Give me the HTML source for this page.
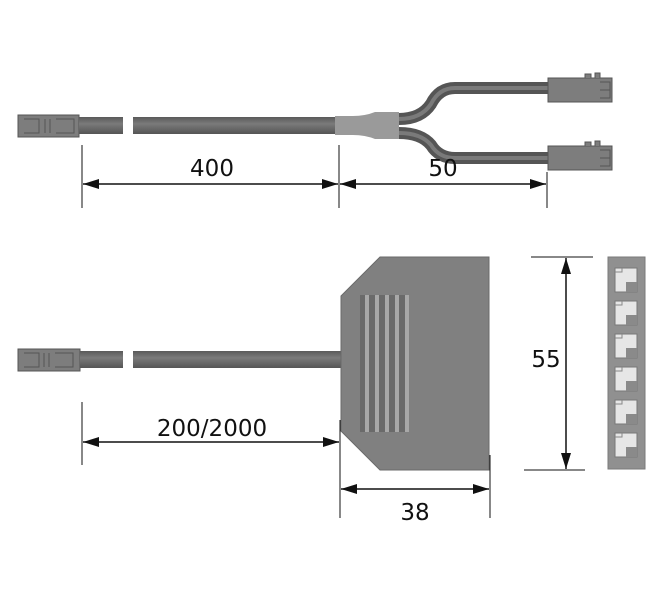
<!DOCTYPE html>
<html><head><style>
html,body{margin:0;padding:0;background:#fff;}
svg{display:block;}
text{font-family:"DejaVu Sans","Liberation Sans",sans-serif;font-size:23px;fill:#111;}
</style></head><body>
<svg width="670" height="598" viewBox="0 0 670 598" xmlns="http://www.w3.org/2000/svg">
<defs>
<marker id="a" viewBox="0 0 16 10" refX="16" refY="5" markerWidth="16" markerHeight="10" orient="auto-start-reverse" markerUnits="userSpaceOnUse"><path d="M0,0L16,5L0,10z" fill="#111"/></marker>
<linearGradient id="cab" x1="0" y1="0" x2="0" y2="1"><stop offset="0" stop-color="#5a5a5a"/><stop offset=".4" stop-color="#7a7a7a"/><stop offset="1" stop-color="#555"/></linearGradient>
</defs>
<!-- TOP -->
<rect x="18" y="115" width="61" height="22" fill="#7d7d7d" stroke="#555"/>
<path d="M24,119h15v14h-15M45,119v14M50,119v14M56,119h18v14h-18" fill="none" stroke="#555"/>
<rect x="79" y="117" width="44" height="17" fill="url(#cab)"/>
<rect x="133" y="117" width="202" height="17" fill="url(#cab)"/>
<path d="M335,116h18q12,0 22,-4h24v27h-24q-10,-4 -22,-4h-18z" fill="#9a9a9a"/>
<path d="M399,119q22,0 32,-15q8,-16 24,-16h93" fill="none" stroke="#555" stroke-width="12"/>
<path d="M399,119q22,0 32,-15q8,-16 24,-16h93" fill="none" stroke="#7a7a7a" stroke-width="4"/>
<path d="M399,133q22,0 32,12q8,13 24,13h93" fill="none" stroke="#555" stroke-width="12"/>
<path d="M399,133q22,0 32,12q8,13 24,13h93" fill="none" stroke="#7a7a7a" stroke-width="4"/>
<rect x="548" y="78" width="64" height="24" fill="#7d7d7d" stroke="#555"/>
<path d="M585,78v-4h6v4M595,78v-5h5v5M600,82h10v16h-10M600,90h10" fill="#7d7d7d" stroke="#555"/>
<rect x="548" y="146" width="64" height="24" fill="#7d7d7d" stroke="#555"/>
<path d="M585,146v-4h6v4M595,146v-5h5v5M600,150h10v16h-10M600,158h10" fill="#7d7d7d" stroke="#555"/>
<g stroke="#111" stroke-width="1">
<line x1="82" y1="145" x2="82" y2="208"/><line x1="339" y1="145" x2="339" y2="208"/><line x1="547" y1="172" x2="547" y2="208"/>
<line x1="83" y1="184" x2="338" y2="184" stroke-width="1.5" marker-start="url(#a)" marker-end="url(#a)"/>
<line x1="340" y1="184" x2="546" y2="184" stroke-width="1.5" marker-start="url(#a)" marker-end="url(#a)"/>
</g>
<text x="212" y="176" text-anchor="middle">400</text>
<text x="443" y="176" text-anchor="middle">50</text>
<!-- BOTTOM -->
<rect x="18" y="349" width="62" height="22" fill="#7d7d7d" stroke="#555"/>
<path d="M24,353h15v14h-15M44,353v14M49,353v14M55,353h18v14h-18" fill="none" stroke="#555"/>
<rect x="80" y="351" width="43" height="17" fill="url(#cab)"/>
<rect x="133" y="351" width="208" height="17" fill="url(#cab)"/>
<polygon points="341,296 380,257 489,257 489,470 380,470 341,431" fill="#808080" stroke="#6a6a6a"/>
<rect x="360" y="295" width="49" height="137" fill="#6a6a6a"/>
<g fill="#a8a8a8"><rect x="365" y="295" width="4" height="137"/><rect x="375" y="295" width="4" height="137"/><rect x="385" y="295" width="4" height="137"/><rect x="395" y="295" width="4" height="137"/><rect x="405" y="295" width="4" height="137"/></g>
<rect x="608" y="257" width="37" height="212" fill="#909090" stroke="#7a7a7a"/>
<g id="s">
<rect x="615" y="268" width="22" height="24" fill="#e6e6e6" stroke="#777"/>
<rect x="626" y="282" width="11" height="10" fill="#8a8a8a"/>
<path d="M615,272h7v-4" fill="none" stroke="#888"/>
</g>
<use href="#s" y="33"/><use href="#s" y="66"/><use href="#s" y="99"/><use href="#s" y="132"/><use href="#s" y="165"/>
<g stroke="#111" stroke-width="1">
<line x1="82" y1="402" x2="82" y2="465"/><line x1="340" y1="420" x2="340" y2="518"/><line x1="490" y1="455" x2="490" y2="518"/>
<line x1="83" y1="442" x2="339" y2="442" stroke-width="1.5" marker-start="url(#a)" marker-end="url(#a)"/>
<line x1="341" y1="489" x2="489" y2="489" stroke-width="1.5" marker-start="url(#a)" marker-end="url(#a)"/>
<line x1="531" y1="257" x2="593" y2="257"/><line x1="524" y1="470" x2="585" y2="470"/>
<line x1="566" y1="258" x2="566" y2="469" stroke-width="1.5" marker-start="url(#a)" marker-end="url(#a)"/>
</g>
<text x="212" y="436" text-anchor="middle">200/2000</text>
<text x="415" y="520" text-anchor="middle">38</text>
<text x="546" y="367" text-anchor="middle">55</text>
</svg>
</body></html>
